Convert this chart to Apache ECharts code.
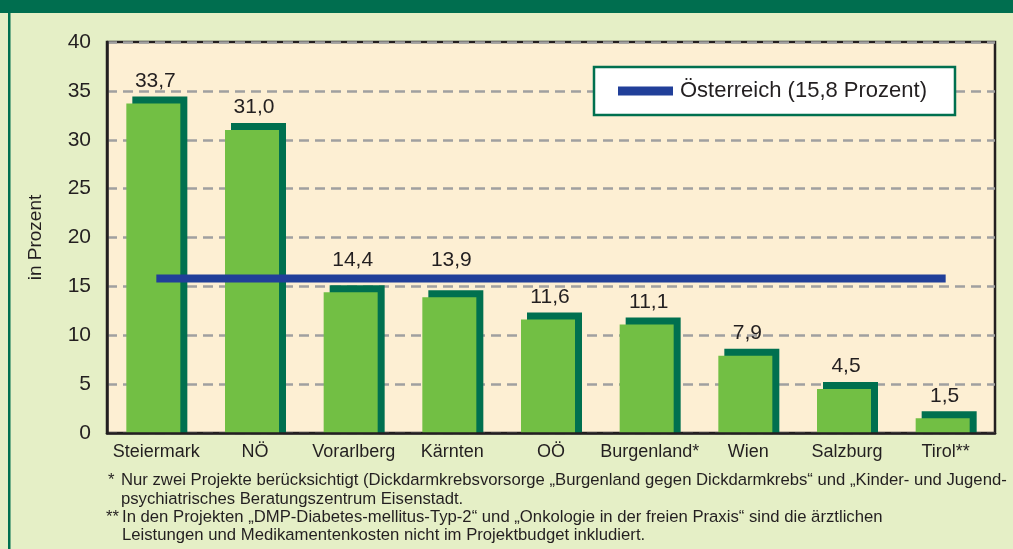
<!DOCTYPE html>
<html>
<head>
<meta charset="utf-8">
<script src="https://cdn.jsdelivr.net/npm/echarts@6/dist/echarts.min.js"></script>
<style>html,body{margin:0;padding:0;background:#e5efc6;}#c{width:1013px;height:549px;}</style>
</head>
<body>
<div id="c"></div>
<script>
const categories = ['Steiermark', 'NÖ', 'Vorarlberg', 'Kärnten', 'OÖ', 'Burgenland*', 'Wien', 'Salzburg', 'Tirol**'];
const values = [33.7, 31.0, 14.4, 13.9, 11.6, 11.1, 7.9, 4.5, 1.5];
const oesterreichName = 'Österreich (15,8 Prozent)';
const oesterreichValue = 15.8;
const yTicks = { min: 0, max: 40, interval: 5 };
const footnotes = [
  ['*', 'Nur zwei Projekte berücksichtigt (Dickdarmkrebsvorsorge „Burgenland gegen Dickdarmkrebs“ und „Kinder- und Jugend-'],
  ['', 'psychiatrisches Beratungszentrum Eisenstadt.'],
  ['**', 'In den Projekten „DMP-Diabetes-mellitus-Typ-2“ und „Onkologie in der freien Praxis“ sind die ärztlichen'],
  ['', 'Leistungen und Medikamentenkosten nicht im Projektbudget inkludiert.']
];

const FONT = '"Liberation Sans", Arial, sans-serif';
const TXT = '#231f20';
const chart = echarts.init(document.getElementById('c'));

const graphics = [
  { type: 'rect', left: 0, top: 0, shape: { width: 1013, height: 13 }, style: { fill: '#006e4f' } },
  { type: 'rect', left: 8, top: 13, shape: { width: 2.5, height: 536 }, style: { fill: '#00704f' } }
];
const lineYs = [482, 501, 519, 537];
footnotes.forEach((f, i) => {
  if (f[0]) graphics.push({ type: 'text', left: f[0] === '**' ? 106 : 108, top: lineYs[i] - 10, style: { text: f[0], font: '16.7px ' + FONT, fill: TXT } });
  graphics.push({ type: 'text', left: f[0] === '**' || i === 3 ? 122 : 121, top: lineYs[i] - 10, style: { text: f[1], font: '16.7px ' + FONT, fill: TXT } });
});

chart.setOption({
  backgroundColor: '#e5efc6',
  animation: false,
  textStyle: { fontFamily: FONT },
  grid: { left: 107, right: 18, top: 42, bottom: 116, show: true, backgroundColor: '#fdefd3', borderColor: TXT, borderWidth: 2.5 },
  legend: {
    data: [oesterreichName], left: 594, top: 67, padding: [13, 28, 13, 24],
    icon: 'rect', itemWidth: 55, itemHeight: 9, itemGap: 10,
    backgroundColor: '#ffffff', borderColor: '#00704f', borderWidth: 2.5, borderRadius: 0,
    textStyle: { fontSize: 22, color: TXT, fontFamily: FONT, padding: [0, 0, 0, 2] }
  },
  xAxis: {
    type: 'category', data: categories, z: 5,
    axisLine: { show: true, lineStyle: { color: TXT, width: 2.5 } },
    axisTick: { show: false },
    splitLine: { show: false },
    axisLabel: { fontSize: 18, color: TXT, margin: 10, interval: 0, fontFamily: FONT }
  },
  yAxis: {
    type: 'value', min: yTicks.min, max: yTicks.max, interval: yTicks.interval, z: 0,
    name: 'in Prozent', nameLocation: 'middle', nameGap: 62, nameRotate: 90,
    nameTextStyle: { fontSize: 19, color: TXT, fontFamily: FONT },
    axisLine: { show: true, lineStyle: { color: TXT, width: 2.5 } },
    axisTick: { show: false },
    axisLabel: { fontSize: 21, color: TXT, margin: 16, fontFamily: FONT },
    splitLine: { show: true, lineStyle: { color: '#a0a0a0', width: 2.5, type: [10, 6] } }
  },
  graphic: graphics,
  series: [
    {
      type: 'custom', name: 'Anteil', z: 2,
      data: values.map((v, i) => [i, v]),
      encode: { x: 0, y: 1 },
      renderItem: function (params, api) {
        const i = api.value(0), v = api.value(1);
        const top = api.coord([i, v]);
        const base = api.coord([i, 0]);
        const refY = api.coord([i, oesterreichValue])[1];
        const cx = top[0];
        const h = base[1] - top[1];
        let labelBottom = top[1] - 12;
        // keep labels clear of the Österreich line
        if (labelBottom > refY - 22 && labelBottom - 22 < refY + 4) labelBottom = refY - 8;
        return {
          type: 'group',
          children: [
            { type: 'rect', shape: { x: cx - 24, y: top[1] - 7, width: 55, height: h + 7 }, style: { fill: '#00704f' } },
            { type: 'rect', shape: { x: cx - 30, y: top[1], width: 54, height: h }, style: { fill: '#72bf44' } },
            { type: 'text', style: { text: v.toFixed(1).replace('.', ','), x: cx - 1, y: labelBottom, align: 'center', verticalAlign: 'bottom', font: '21px ' + FONT, fill: TXT } }
          ]
        };
      }
    },
    {
      type: 'line', name: oesterreichName, z: 3,
      data: categories.map(() => oesterreichValue),
      symbol: 'none', color: '#213f99',
      lineStyle: { width: 8, color: '#213f99', cap: 'butt' }
    }
  ]
});
</script>
</body>
</html>
